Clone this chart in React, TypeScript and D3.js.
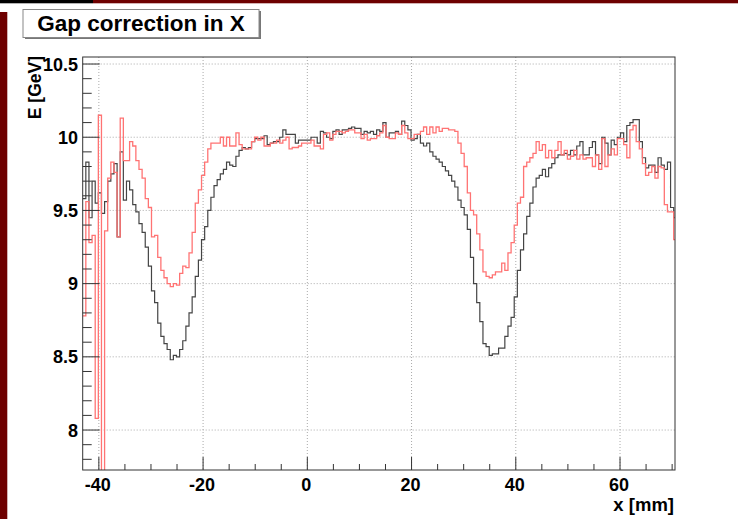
import { useEffect, useRef } from "react";
import * as d3 from "d3";

// histogram binning (mm)
const binStart = -43.1;
const binWidth = 0.6;

// black: before correction
const blackValues = [
  9.58, 9.83, 9.45, 9.7, 9.55, 9.62, 9.48, 9.56, 9.7, 9.75,
  9.82, 9.32, 9.9, 9.57, 9.7, 9.64, 9.54, 9.49, 9.41, 9.35,
  9.25, 9.12, 8.95, 8.87, 8.73, 8.64, 8.59, 8.55, 8.48, 8.51,
  8.5, 8.55, 8.61, 8.71, 8.8, 8.91, 9.05, 9.16, 9.3, 9.39,
  9.5, 9.59, 9.67, 9.71, 9.75, 9.78, 9.83, 9.81, 9.8, 9.87,
  9.91, 9.93, 9.92, 9.93, 9.97, 9.99, 9.99, 9.99, 10.01, 9.95,
  9.96, 9.97, 9.97, 10.0, 10.05, 10.02, 10.02, 10.02, 9.96, 9.98,
  9.98, 9.98, 9.98, 10.0, 10.0, 9.96, 10.04, 10.03, 10.0, 9.99,
  10.04, 10.05, 10.02, 10.05, 10.05, 10.06, 10.07, 10.06, 10.06, 10.02,
  10.04, 10.03, 10.04, 10.02, 10.05, 10.04, 10.1, 10.0, 10.03, 10.03,
  10.04, 10.02, 10.11, 10.08, 10.05, 9.98, 9.99, 10.02, 9.96, 9.94,
  9.96, 9.9, 9.87, 9.85, 9.83, 9.8, 9.77, 9.74, 9.7, 9.66,
  9.57, 9.52, 9.47, 9.37, 9.18, 9.0, 8.87, 8.74, 8.59, 8.57,
  8.51, 8.52, 8.52, 8.56, 8.56, 8.64, 8.71, 8.77, 8.91, 9.09,
  9.23, 9.34, 9.46, 9.55, 9.66, 9.72, 9.74, 9.78, 9.73, 9.79,
  9.82, 9.86, 9.88, 9.88, 9.89, 9.88, 9.91, 9.88, 9.94, 9.97,
  9.88, 9.88, 9.93, 9.97, 9.88, 9.82, 10.0, 9.96, 9.88, 9.98,
  9.95, 10.0, 10.03, 9.97, 10.08, 10.1, 10.12, 10.12, 9.97, 9.86,
  9.79, 9.81, 9.81, 9.76, 9.86, 9.81, 9.78, 9.83, 9.52, 9.45,
];

// red: after correction
const redValues = [
  8.78, 9.56, 9.28, 9.33, 8.08, 10.15, 7.5, 9.36, 9.72, 9.83,
  9.76, 9.32, 10.13, 9.84, 9.84, 9.97, 9.94, 9.84, 9.78, 9.72,
  9.58, 9.52, 9.32, 9.33, 9.18, 9.09, 9.04, 9.0, 8.98, 9.0,
  8.99, 9.07, 9.12, 9.11, 9.21, 9.35, 9.55, 9.64, 9.74, 9.83,
  9.92, 9.96, 9.96, 9.96, 10.0, 9.94, 10.0, 9.94, 9.94, 10.03,
  9.95, 9.92, 9.92, 9.92, 9.97, 10.0, 9.98, 10.0, 9.94, 9.94,
  9.96, 9.96, 9.98, 9.96, 9.98, 10.0, 9.92, 9.93, 9.93, 9.94,
  9.96, 9.96, 9.96, 9.98, 9.94, 9.94, 9.92, 10.02, 10.03, 9.98,
  10.02, 10.04, 10.04, 10.03, 10.04, 10.05, 10.05, 10.03, 10.03, 9.99,
  10.02, 9.98, 9.99, 9.99, 10.01, 10.03, 10.08, 10.0, 9.99, 9.99,
  10.03, 10.02, 10.08, 10.03, 9.99, 9.99, 10.02, 10.02, 10.04, 10.07,
  10.02, 10.07, 10.03, 10.07, 10.04, 10.06, 10.06, 10.05, 10.05, 10.04,
  9.96, 9.89, 9.8, 9.62, 9.5, 9.47, 9.34, 9.23, 9.08, 9.05,
  9.04, 9.06, 9.08, 9.08, 9.14, 9.09, 9.21, 9.28, 9.4, 9.55,
  9.59, 9.8, 9.83, 9.86, 9.89, 9.97, 9.91, 9.95, 9.86, 9.91,
  9.86, 9.91, 9.97, 9.88, 9.91, 9.85, 9.87, 9.91, 9.85, 9.88,
  9.85, 9.86, 9.86, 9.8, 9.88, 9.78, 9.99, 9.8, 9.88, 9.92,
  9.88, 9.99, 9.99, 9.95, 9.86, 10.05, 10.08, 9.97, 9.92, 9.82,
  9.74, 9.76, 9.8, 9.72, 9.8, 9.79, 9.54, 9.49, 9.49, 9.3,
];

const xDomain = [-43.1, 70.55];
const yDomain = [7.727, 10.548];

const title = "Gap correction in X";
const xTitle = "x [mm]";
const yTitle = "E [GeV]";

export default function App() {
  const svgRef = useRef<SVGSVGElement>(null);

  useEffect(() => {
    document.body.style.margin = "0";
    const svg = d3.select(svgRef.current);
    svg.selectAll("*").remove();

    const W = 738, H = 519;
    const left = 82.7, right = 675, top = 57, bottom = 470;
    const font = "'Liberation Sans', Arial, Helvetica, sans-serif";

    svg.append("rect").attr("width", W).attr("height", H).attr("fill", "#fff");

    // window decoration
    svg.append("rect").attr("x", 0).attr("y", 0).attr("width", 93).attr("height", 3.3).attr("fill", "#000");
    svg.append("rect").attr("x", 93).attr("y", 0).attr("width", W - 93).attr("height", 3.3).attr("fill", "#6e0000");
    svg.append("rect").attr("x", 0).attr("y", 12).attr("width", 7.3).attr("height", H - 12).attr("fill", "#6e0000");

    const x = d3.scaleLinear().domain(xDomain).range([left, right]);
    const y = d3.scaleLinear().domain(yDomain).range([bottom, top]);

    // grid
    const grid = svg.append("g").attr("stroke", "#aaa").attr("stroke-width", 1).attr("stroke-dasharray", "1,2");
    x.ticks(5).forEach((t) => {
      grid.append("line").attr("x1", x(t)).attr("x2", x(t)).attr("y1", top).attr("y2", bottom);
    });
    y.ticks(5).forEach((t) => {
      grid.append("line").attr("x1", left).attr("x2", right).attr("y1", y(t)).attr("y2", y(t));
    });

    // clip
    svg.append("clipPath").attr("id", "plotclip")
      .append("rect").attr("x", left).attr("y", top).attr("width", right - left).attr("height", bottom - top);

    const stepLine = d3.line<[number, number]>()
      .x((d) => x(d[0]))
      .y((d) => y(d[1]))
      .curve(d3.curveStepAfter);

    const toPoints = (vals: number[]): [number, number][] => {
      const pts: [number, number][] = vals.map((v, i) => [binStart + i * binWidth, v]);
      pts.push([binStart + vals.length * binWidth, vals[vals.length - 1]]);
      return pts;
    };

    const plot = svg.append("g").attr("clip-path", "url(#plotclip)");
    plot.append("path")
      .attr("d", stepLine(toPoints(blackValues)))
      .attr("fill", "none")
      .attr("stroke", "#444")
      .attr("stroke-width", 1.2);
    plot.append("path")
      .attr("d", stepLine(toPoints(redValues)))
      .attr("fill", "none")
      .attr("stroke", "#ff7373")
      .attr("stroke-width", 1.3);

    // frame
    svg.append("rect")
      .attr("x", left).attr("y", top).attr("width", right - left).attr("height", bottom - top)
      .attr("fill", "none").attr("stroke", "#333").attr("stroke-width", 1);

    // ticks
    const ticks = svg.append("g").attr("stroke", "#333").attr("stroke-width", 1);
    x.ticks(20).forEach((t) => {
      const major = x.ticks(5).includes(t);
      ticks.append("line").attr("x1", x(t)).attr("x2", x(t))
        .attr("y1", bottom).attr("y2", bottom - (major ? 13 : 6));
    });
    y.ticks(25).forEach((t) => {
      const major = Math.abs(t * 2 - Math.round(t * 2)) < 1e-6;
      ticks.append("line").attr("x1", left).attr("x2", left + (major ? 17 : 9))
        .attr("y1", y(t)).attr("y2", y(t));
    });

    // tick labels
    const labels = svg.append("g").attr("font-family", font).attr("font-weight", "bold")
      .attr("font-size", 18).attr("fill", "#000");
    x.ticks(5).forEach((t) => {
      labels.append("text").attr("x", x(t) - 1).attr("y", 491).attr("text-anchor", "middle").text(String(t));
    });
    y.ticks(5).forEach((t) => {
      labels.append("text").attr("x", 78).attr("y", y(t) + 6.5).attr("text-anchor", "end")
        .text(String(+t.toFixed(1)));
    });

    // axis titles
    svg.append("text").attr("x", 674).attr("y", 511).attr("text-anchor", "end")
      .attr("font-family", font).attr("font-weight", "bold").attr("font-size", 18.5).text(xTitle);
    svg.append("text").attr("transform", "translate(41,56) rotate(-90)").attr("text-anchor", "end")
      .attr("font-family", font).attr("font-weight", "bold").attr("font-size", 17.5).text(yTitle);

    // title box
    svg.append("rect").attr("x", 25).attr("y", 11).attr("width", 236).attr("height", 28).attr("fill", "#777");
    svg.append("rect").attr("x", 23).attr("y", 9.5).attr("width", 236).attr("height", 28)
      .attr("fill", "#fff").attr("stroke", "#888").attr("stroke-width", 1);
    svg.append("text").attr("x", 141).attr("y", 31).attr("text-anchor", "middle")
      .attr("font-family", font).attr("font-weight", "bold").attr("font-size", 22.5).text(title);
  }, []);

  return <svg ref={svgRef} width={738} height={519} style={{ display: "block" }} />;
}
